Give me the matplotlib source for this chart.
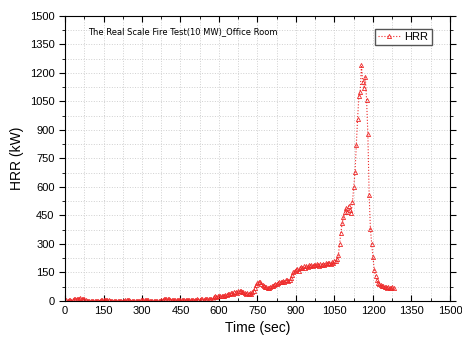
import numpy as np
import matplotlib
matplotlib.use("Agg")
import matplotlib.pyplot as plt
from matplotlib.ticker import MultipleLocator

plt.rcParams['font.family'] = ['Liberation Sans', 'DejaVu Sans']

# time every 5 s, HRR values
time_sec = np.arange(0, 1285, 5)
hrr = [
    2, 3, 2, 4, 3, 2, 5, 8, 10, 12,
    13, 12, 14, 11, 12, 9, 3, 2, 1, 1,
    0, 1, 0, 1, 0, 0, 1, 2, 3, 5,
    6, 5, 4, 6, 3, 1, 0, 0, 1, 0,
    0, 1, 0, 0, 1, 0, 1, 3, 5, 6,
    4, 2, 1, 0, 1, 0, 0, 1, 2, 4,
    5, 6, 4, 5, 6, 3, 2, 1, 0, 0,
    1, 0, 0, 1, 2, 3, 6, 8, 9, 10,
    8, 9, 7, 6, 5, 4, 3, 4, 5, 3,
    4, 3, 5, 4, 6, 5, 4, 6, 7, 5,
    6, 7, 5, 8, 6, 7, 9, 8, 7, 10,
    9, 11, 10, 12, 11, 13, 20, 24, 23, 25,
    24, 26, 27, 25, 28, 30, 32, 35, 38, 40,
    42, 38, 45, 48, 44, 50, 55, 52, 48, 45,
    40, 38, 42, 35, 40, 38, 45, 55, 70, 85,
    95, 100, 98, 92, 85, 80, 75, 72, 70, 68,
    72, 78, 80, 85, 88, 92, 95, 100, 98, 102,
    105, 100, 108, 110, 106, 112, 120, 135, 150, 158,
    165, 170, 160, 172, 178, 175, 182, 176, 185, 180,
    188, 182, 190, 185, 192, 188, 195, 190, 186, 194,
    190, 196, 192, 200, 195, 198, 202, 196, 205, 200,
    208, 212, 220, 240, 300, 360, 410, 440, 470, 490,
    470, 500, 480, 465, 520, 600, 680, 820, 960, 1080,
    1100, 1240, 1150, 1120, 1180, 1060, 880, 560, 380, 300,
    230, 163, 130, 110, 95, 90, 85, 80, 78, 75,
    72, 70, 75, 68, 66, 72, 68,
]

fig = plt.figure(figsize=(4.62, 3.47), dpi=100)
ax = fig.add_axes([0.1407, 0.1326, 0.8333, 0.8214])

ax.plot(time_sec, hrr, color="#ee2a2a", linestyle=":", linewidth=0.8,
        marker="^", markersize=3, markerfacecolor="none",
        markeredgewidth=0.6, label="HRR")

ax.set_xlim(0, 1500)
ax.set_ylim(0, 1500)
ax.xaxis.set_major_locator(MultipleLocator(150))
ax.yaxis.set_major_locator(MultipleLocator(150))
ax.xaxis.set_minor_locator(MultipleLocator(75))
ax.yaxis.set_minor_locator(MultipleLocator(75))
ax.grid(True, which="both", linestyle=":", color="#d0d0d0", linewidth=0.7)
ax.tick_params(which="both", labelsize=8, top=True, right=True)
ax.tick_params(axis="x", which="both", direction="in")
ax.tick_params(which="major", length=4)
ax.tick_params(which="minor", length=2)

ax.set_xlabel("Time (sec)", fontsize=10)
ax.set_ylabel("HRR (kW)", fontsize=10)

ax.text(90, 1405, "The Real Scale Fire Test(10 MW)_Office Room", fontsize=6,
        family=["DejaVu Sans"])
ax.legend(loc="upper right", fontsize=8, fancybox=False, edgecolor="#555555",
          framealpha=1, handlelength=2, borderpad=0.3, handletextpad=0.4,
          borderaxespad=0, bbox_to_anchor=(0.953, 0.955))

fig.savefig("out.png", dpi=100)
